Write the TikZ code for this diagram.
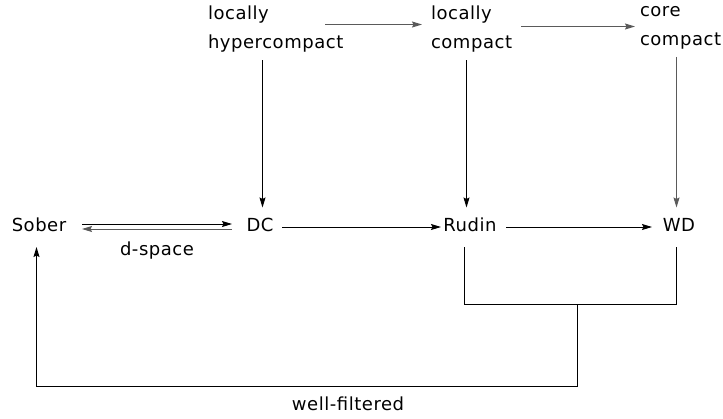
\documentclass[tikz,border=0pt]{standalone}
\usepackage{fontspec}
\setmainfont[LetterSpace=3]{DejaVu Sans}
\usetikzlibrary{arrows.meta,calc}
\definecolor{grayline}{HTML}{5A5A5A}
\tikzset{
  lbl/.style={inner sep=0pt, outer sep=0pt, font=\fontsize{18}{29}\selectfont},
  toplbl/.style={lbl, align=left, anchor=north west},
  botlbl/.style={lbl, anchor=base},
  headtip/.tip={Stealth[length=10pt,width=6pt,inset=1.5pt]},
  blk/.style={draw=black, line width=1pt},
  blkarrow/.style={blk, -headtip},
  grayarrow/.style={draw=grayline, line width=1pt, -headtip}
}
\begin{document}
\begin{tikzpicture}[x=1pt,y=-1pt]
\useasboundingbox (0,0) rectangle (723,418);
% top labels
\node[toplbl] (lh) at (208,6) {locally\\hypercompact};
\node[toplbl] (lc) at (431,6) {locally\\compact};
\node[toplbl] (cc) at (640,6) {core\\compact};
% middle row
\node[botlbl] (sober) at (39,231.5) {Sober};
\node[botlbl] (dc) at (260,231.5) {DC};
\node[botlbl] (rudin) at (470,231.5) {Rudin};
\node[botlbl] (wd) at (679,231.5) {WD};
\node[botlbl] (dspace) at (157,255) {d-space};
\node[botlbl] (wf) at (348,410) {well-filtered};
% top arrows
\draw[grayarrow] ($(lh.north west)+(117,18.5)$) -- ($(lc.north west)+(-9,18.5)$);
\draw[grayarrow] ($(lc.north west)+(90,20.5)$) -- ($(cc.north west)+(-5,20.5)$);
% vertical arrows
\draw[blkarrow] ($(dc.base |- lh.south)+(2.5,8)$) -- ($(dc.base)+(2.5,-24)$);
\draw[blkarrow] ($(rudin.base |- lc.south)+(-3.5,8)$) -- ($(rudin.base)+(-3.5,-24)$);
\draw[grayarrow] ($(wd.base |- cc.south)+(-2.5,8)$) -- ($(wd.base)+(-2.5,-24)$);
% middle row arrows
\draw[blkarrow] ($(sober.base)+(43,-7.5)$) -- ($(dc.base)+(-28,-7.5)$);
\draw[grayarrow] ($(dc.base)+(-28,-2.5)$) -- ($(sober.base)+(43,-2.5)$);
\draw[blkarrow] ($(dc.base)+(22,-4.5)$) -- ($(rudin.base)+(-29,-4.5)$);
\draw[blkarrow] ($(rudin.base)+(36,-4.5)$) -- ($(wd.base)+(-27,-4.5)$);
% bracket and well-filtered
\draw[blk] ($(rudin.base)+(-5.5,15.5)$) |- ($(wd.base)+(-2.5,72.5)$) -- ($(wd.base)+(-2.5,15.5)$);
\coordinate (jn) at ($(rudin.base)+(107.5,72.5)$);
\coordinate (low) at ($(rudin.base)+(107.5,154.5)$);
\draw[blkarrow] (jn) -- (low) -| ($(sober.base)+(-2.5,15.5)$);
\end{tikzpicture}
\end{document}
